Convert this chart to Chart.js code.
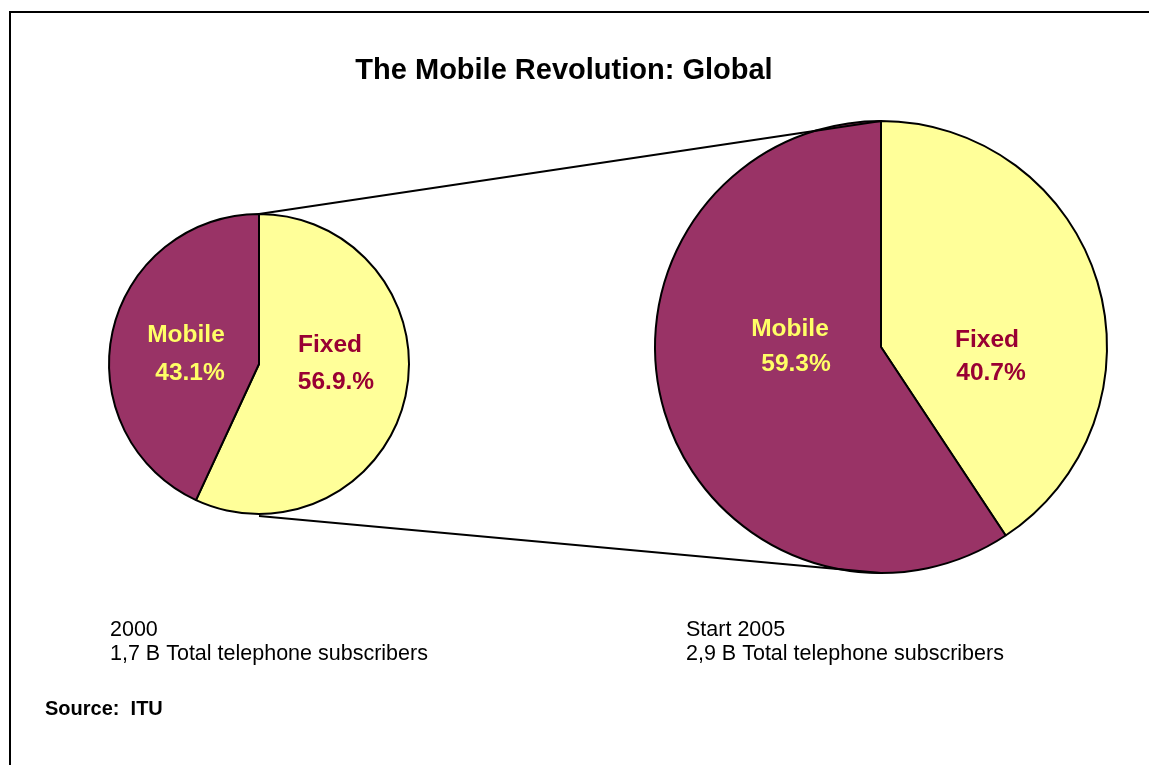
<!DOCTYPE html>
<html>
<head>
<meta charset="utf-8">
<title>The Mobile Revolution: Global</title>
<script src="https://cdn.jsdelivr.net/npm/chart.js@4.4.1/dist/chart.umd.min.js"></script>
<style>
  html, body { margin: 0; padding: 0; background: #fff; }
  body { width: 1149px; height: 765px; position: relative; overflow: hidden; }
  canvas { position: absolute; }
  #overlay { left: 0; top: 0; pointer-events: none; }
  #pie2000 { left: 99px; top: 204px; }
  #pie2005 { left: 641px; top: 107px; }
</style>
</head>
<body>
<canvas id="pie2000" width="320" height="320"></canvas>
<canvas id="pie2005" width="480" height="480"></canvas>
<canvas id="overlay" width="1149" height="765"></canvas>
<script>
const categories = ["Fixed", "Mobile"];
const share2000 = [56.9, 43.1];
const share2005 = [40.7, 59.3];
const valueLabels2000 = ["56.9.%", "43.1%"];
const valueLabels2005 = ["40.7%", "59.3%"];
const captions2000 = ["2000", "1,7 B Total telephone subscribers"];
const captions2005 = ["Start 2005", "2,9 B Total telephone subscribers"];
const sourceNote = "Source:  ITU";
const chartTitle = "The Mobile Revolution: Global";

const sliceColors = ["#FFFF99", "#993366"];
const labelColors = ["#990033", "#FFFF66"];
const FONT = "'Liberation Sans', Arial, Helvetica, sans-serif";

// text placed relative to the pie centre: [nameDx, nameDy, valueDx, valueDy]
const labelOffsets2000 = [[71, -12, 77, 25], [-73, -22, -69, 16]];
const labelOffsets2005 = [[106, 0, 110, 33], [-91, -11, -85, 24]];

const sliceLabels = {
  id: "sliceLabels",
  afterDatasetsDraw(chart, args, opts) {
    const ctx = chart.ctx;
    const arcs = chart.getDatasetMeta(0).data;
    ctx.save();
    ctx.font = "bold 24.5px " + FONT;
    ctx.textAlign = "center";
    ctx.textBaseline = "alphabetic";
    arcs.forEach((arc, i) => {
      const off = opts.offsets[i];
      ctx.fillStyle = labelColors[i];
      ctx.fillText(categories[i], arc.x + off[0], arc.y + off[1]);
      ctx.fillText(opts.values[i], arc.x + off[2], arc.y + off[3]);
    });
    ctx.restore();
  }
};

function makePie(id, data, radius, values, offsets) {
  return new Chart(document.getElementById(id), {
    type: "pie",
    data: {
      labels: categories,
      datasets: [{
        data,
        backgroundColor: sliceColors,
        borderColor: "#000",
        borderWidth: 2
      }]
    },
    options: {
      responsive: false,
      animation: false,
      radius,
      events: [],
      plugins: {
        legend: { display: false },
        tooltip: { enabled: false },
        sliceLabels: { values, offsets }
      }
    },
    plugins: [sliceLabels]
  });
}

const pieA = makePie("pie2000", share2000, 150, valueLabels2000, labelOffsets2000);
const pieB = makePie("pie2005", share2005, 226, valueLabels2005, labelOffsets2005);

function pieGeom(chart) {
  const arc = chart.getDatasetMeta(0).data[0];
  return {
    x: chart.canvas.offsetLeft + arc.x,
    y: chart.canvas.offsetTop + arc.y,
    r: arc.outerRadius
  };
}

const overlay = document.getElementById("overlay").getContext("2d");
const a = pieGeom(pieA);
const b = pieGeom(pieB);

// frame
overlay.strokeStyle = "#000";
overlay.lineWidth = 2;
overlay.beginPath();
overlay.moveTo(10, 765);
overlay.lineTo(10, 12);
overlay.lineTo(1149, 12);
overlay.stroke();

// zoom connectors between the two pies
overlay.lineWidth = 1.8;
overlay.beginPath();
overlay.moveTo(a.x, a.y - a.r);
overlay.lineTo(b.x, b.y - b.r);
overlay.moveTo(a.x, a.y + a.r + 2);
overlay.lineTo(b.x, b.y + b.r);
overlay.stroke();

// texts
overlay.fillStyle = "#000";
overlay.textBaseline = "alphabetic";
overlay.textAlign = "center";
overlay.font = "bold 29px " + FONT;
overlay.fillText(chartTitle, 564, 79);

overlay.textAlign = "left";
overlay.font = "21.5px " + FONT;
captions2000.forEach((t, i) => overlay.fillText(t, 110, 636 + i * 24));
captions2005.forEach((t, i) => overlay.fillText(t, 686, 636 + i * 24));

overlay.font = "bold 20px " + FONT;
overlay.fillText(sourceNote, 45, 715);
</script>
</body>
</html>
